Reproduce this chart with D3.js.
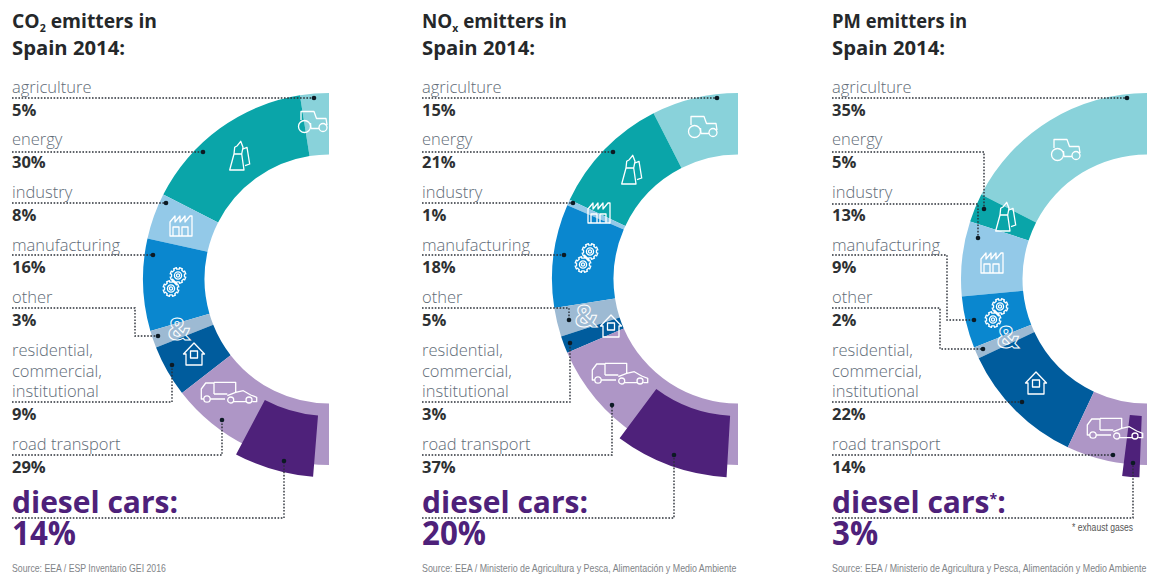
<!DOCTYPE html>
<html><head><meta charset="utf-8">
<script src="https://cdnjs.cloudflare.com/ajax/libs/d3/7.8.5/d3.min.js"></script>
<style>html,body{margin:0;padding:0;background:#fff}svg{display:block}</style>
</head><body><svg id="c" width="1154" height="575"></svg>
<script>
// ---- data ----
const categories = ["agriculture","energy","industry","manufacturing","other","residential, commercial, institutional","road transport"];
const co2Values = [5,30,8,16,3,9,29];
const noxValues = [15,21,1,18,5,3,37];
const pmValues  = [35,5,13,9,2,22,14];
const dieselValues = [14,20,3];
const pollutants = ["CO","NO","PM"];
const pollutantSubs = ["2","x",""];
const sources = ["Source: EEA / ESP Inventario GEI 2016",
  "Source: EEA / Ministerio de Agricultura y Pesca, Alimentación y Medio Ambiente",
  "Source: EEA / Ministerio de Agricultura y Pesca, Alimentación y Medio Ambiente"];
const footnote = "* exhaust gases";
const allValues = [co2Values,noxValues,pmValues];

// ---- layout (not data) ----
const colors = ["#89d2da","#0aa5a9","#93c9e8","#0a87cf","#9dbad3","#005c9d","#ae96c6"];
const dieselColor = "#4e217a";
const panelX = [12,422,832];
const centerX = [329,738,1147];
const centerY = 279, r0 = 124.5, r1 = 186, dr0 = 137, dr1 = 198.5;
const dieselOffsetDeg = [4.6,3.3,2.2];
const labelRows = [93,145,198,251,303,356,450];
const valueRows = [116,168,221,273,326,420,473];
const titleWidths = [145,145,135];
const sourceWidths = [154,315,315];
const leaders = [
 [[[314,98]],[[203,152]],[[166,203]],[[153,255]],[[135,308],[135,336],[158,336]],[[172,402],[172,365]],[[222,455],[222,420]],[[284,518],[284,461]]],
 [[[717,98]],[[613,152]],[[573,203]],[[564,255]],[[569,308],[569,320]],[[570,402],[570,343]],[[612,455],[612,405]],[[674,518],[674,455]]],
 [[[1127,98]],[[984,152],[984,209]],[[978,204],[978,238]],[[947,255],[947,320],[974,320]],[[940,308],[940,349],[983,349]],[[1022,402]],[[1113,455]],[[1133,518],[1133,463]]]
];
const iconPos = [
 [[313,122],[239,157],[181,226],[175,282],[178,329],[194,354],[229,394]],
 [[703,127],[631,171],[599,213],[587,258],[585,316],[611,326],[620,375]],
 [[1066,150],[1005,218],[992,263],[997,313],[1007,337],[1036,383],[1115,430]]
];
// line icons, local coordinates centred on 0,0
const gear = (cx,cy,r)=>{
  const p=d3.path(); const n=8;
  for(let i=0;i<n*2;i++){
    const a=i*Math.PI/n, rr=i%2?r:r*0.82;
    const a1=a-Math.PI/n/2, a2=a+Math.PI/n/2;
    const x1=cx+rr*Math.cos(a1),y1=cy+rr*Math.sin(a1),x2=cx+rr*Math.cos(a2),y2=cy+rr*Math.sin(a2);
    if(i===0)p.moveTo(x1,y1);else p.lineTo(x1,y1);
    p.lineTo(x2,y2);
  }
  p.closePath();
  [r*0.45,r*0.2].forEach(q=>{p.moveTo(cx+q,cy);p.arc(cx,cy,q,0,Math.PI*2);});
  return p.toString();
};
const circle=(cx,cy,r)=>`M${cx+r},${cy}A${r},${r} 0 1 0 ${cx-r},${cy}A${r},${r} 0 1 0 ${cx+r},${cy}Z`;
const iconPaths = [
 "M-12,-2V-10.5H1L3.5,-3.5H13L14,3M-2,6.5H6M-2.5,1L-2,6.5"+circle(-8.5,4.5,6)+circle(10,5.5,4),
 "M-9.3,13H5L2.7,-3H-5ZM-5,-3L-4.3,-9.7L-1.7,-11.3L1.7,-15.7L4,-9.7L2.7,-3M4,-8L8,-9.7L10.7,7L6,8.7",
 "M-11,10V-4L-6,-10V-4L-1,-10V-4L4,-10V-4L9,-10L11,-10V10ZM-8,10V1H-2V10M1,10V1H7V10",
 gear(3,-6.5,8)+gear(-4,6.5,8),
 "",
 "M-10.5,0L0,-11L10.5,0H8V11H-8V0ZM-3.5,-3H3.5V4H-3.5Z",
 "M-25,5H-27.7V-5L-23.3,-11H-15V0M-15,-11.7H6.7V-1.7M-15,0H-1.7M-18.5,5H-4"+circle(-22,5,3.2)+circle(1.7,6,3)+circle(20,6,3)+"M-1.7,1.7L6.7,-1.7L14.3,-3.3L21.7,1L27.7,3.3V7.7H23.5M5,7.7H17"
];

const font = "'Open Sans',sans-serif";
const smallFont = "'Liberation Sans',sans-serif";
const labelFill="#5f6c78", valueFill="#2e3133";
const svg = d3.select("#c");
const angle = d3.scaleLinear().domain([0,100]).range([0,-Math.PI]);
const pie = d3.pie().sort(null).startAngle(angle(0)).endAngle(angle(100));
const arc = d3.arc().innerRadius(r0).outerRadius(r1);
const dieselArc = d3.arc().innerRadius(dr0).outerRadius(dr1);
const areaRatio = (r1*r1-r0*r0)/(dr1*dr1-dr0*dr0);

// horizontally condensed small text: squeezes to a target width with a transform
function squeezed(parent,x,y,s,size,fill,width,anchor){
  const el = parent.append("text").text(s).attr("font-family",smallFont).attr("font-size",size)
    .attr("fill",fill).attr("text-anchor",anchor||"start");
  const k = width/el.node().getComputedTextLength();
  return el.attr("transform",`translate(${x},${y}) scale(${k},1)`);
}

allValues.forEach((vals,pi)=>{
  const g = svg.append("g");
  const ring = g.append("g").attr("transform",`translate(${centerX[pi]},${centerY})`);
  ring.selectAll("path.seg").data(pie(vals)).join("path").attr("class","seg")
    .attr("d",arc).attr("fill",(d,i)=>colors[i]);
  const end = angle(100)+dieselOffsetDeg[pi]*Math.PI/180;
  const span = (angle(0)-angle(dieselValues[pi]))*areaRatio;
  ring.append("path").attr("d",dieselArc({startAngle:end,endAngle:end+span})).attr("fill",dieselColor);

  const icons = g.append("g");
  iconPos[pi].forEach((p,i)=>{
    if(i===4){
      icons.append("text").attr("x",p[0]+1).attr("y",p[1]+11).attr("text-anchor","middle")
        .attr("font-family",font).attr("font-weight",700).attr("font-size",30)
        .attr("fill","none").attr("stroke","#fff").attr("stroke-width",1).text("&");
    } else {
      icons.append("path").attr("transform",`translate(${p[0]},${p[1]})`).attr("d",iconPaths[i])
        .attr("fill","none").attr("stroke","#fff").attr("stroke-width",1.3).attr("stroke-linejoin","round");
    }
  });

  const line = d3.line();
  const px = panelX[pi];
  leaders[pi].forEach(route=>{
    const pts = [[px,route[0][1]],...route];
    g.append("path").attr("d",line(pts)).attr("fill","none").attr("stroke","#2b3038")
      .attr("stroke-width",1.4).attr("stroke-dasharray","1.6,1.6");
    const e = route[route.length-1];
    g.append("circle").attr("cx",e[0]).attr("cy",e[1]).attr("r",2.3).attr("fill","#0c1a24");
  });

  const t = (x,y,s,size,weight,fill)=>g.append("text").attr("x",x).attr("y",y).text(s)
    .attr("font-family",font).attr("font-size",size).attr("font-weight",weight).attr("fill",fill);
  const title = t(px,27.5,pollutants[pi],20,700,"#25282a")
    .attr("textLength",titleWidths[pi]).attr("lengthAdjust","spacingAndGlyphs");
  if(pollutantSubs[pi]){
    title.append("tspan").attr("dy",4).attr("font-size",11).text(pollutantSubs[pi]);
    title.append("tspan").attr("dy",-4).text(" emitters in");
  } else title.append("tspan").text(" emitters in");
  t(px,54.5,"Spain 2014:",20,700,"#25282a")
    .attr("textLength",113).attr("lengthAdjust","spacingAndGlyphs");

  categories.forEach((c,i)=>{
    if(i===5){
      c.split(" ").forEach((w,j)=>t(px,labelRows[i]+j*20.5,w,16.5,300,labelFill));
    } else t(px,labelRows[i],c,16.5,300,labelFill);
    t(px,valueRows[i],vals[i]+"%",16.5,700,valueFill);
  });

  if(pi===2){
    const dc = t(px,512.5,"diesel cars",30,700,dieselColor);
    dc.append("tspan").attr("dy",-9).attr("font-size",14).text("*");
    dc.append("tspan").attr("dy",9).text(":");
  } else {
    t(px,512.5,"diesel cars:",30,700,dieselColor);
  }
  const pct = t(px,545,dieselValues[pi]+"%",34,700,dieselColor);
  pct.attr("textLength",pct.node().getComputedTextLength()*0.92).attr("lengthAdjust","spacingAndGlyphs");
  squeezed(g,px,572,sources[pi],10,"#7f8488",sourceWidths[pi]);
});
squeezed(svg,1133,531,footnote,10,"#555",61,"end");
</script></body></html>
